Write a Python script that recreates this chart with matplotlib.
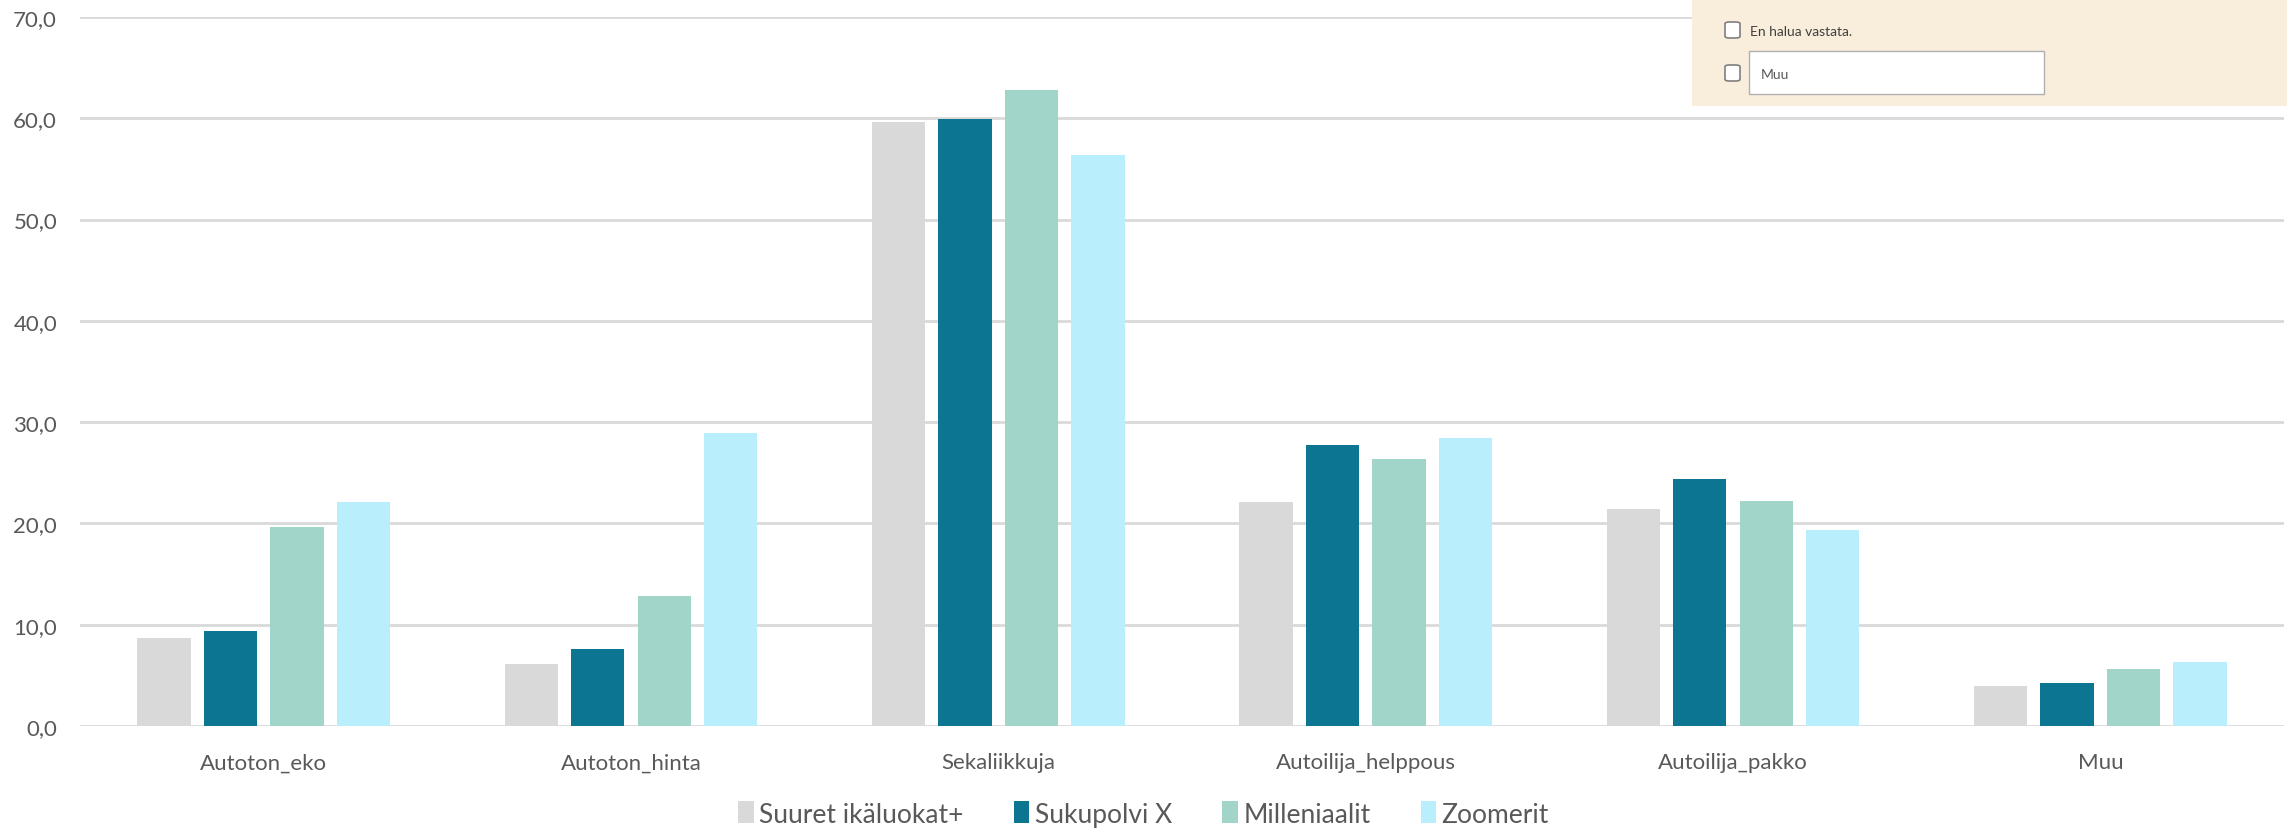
import numpy as np
import matplotlib
matplotlib.use("Agg")
import matplotlib.pyplot as plt
from matplotlib.patches import Rectangle, FancyBboxPatch
from matplotlib.ticker import FuncFormatter

# data
categories = ["Autoton_eko", "Autoton_hinta", "Sekaliikkuja",
              "Autoilija_helppous", "Autoilija_pakko", "Muu"]
series_names = ["Suuret ikäluokat+", "Sukupolvi X", "Milleniaalit", "Zoomerit"]
suuret = [8.7, 6.1, 59.6, 22.1, 21.4, 3.9]
sukupolvi_x = [9.4, 7.6, 59.9, 27.7, 24.4, 4.2]
milleniaalit = [19.6, 12.8, 62.8, 26.4, 22.2, 5.6]
zoomerit = [22.1, 28.9, 56.4, 28.4, 19.4, 6.3]
colors = ["#D9D9D9", "#0B7592", "#A2D5C9", "#B9EFFD"]

W, H = 2287, 829
plt.rcParams['font.family'] = ['Lato', 'DejaVu Sans']
fig = plt.figure(figsize=(W / 100, H / 100), dpi=100)
ax = fig.add_axes([80 / W, 1 - 727 / H, (2284 - 80) / W, (727 - 18) / H])

x = np.arange(len(categories))
bw = 0.145
pitch = 0.181
for j, vals in enumerate([suuret, sukupolvi_x, milleniaalit, zoomerit]):
    ax.bar(x + (j - 1.5) * pitch, vals, width=bw, color=colors[j],
           label=series_names[j], zorder=3)

ax.set_xlim(-0.5, len(categories) - 0.5)
ax.set_ylim(0, 70)
ax.set_yticks(np.arange(0, 71, 10))
ax.yaxis.set_major_formatter(FuncFormatter(lambda v, p: f"{v:.1f}".replace(".", ",")))
ax.set_xticks(x)
ax.set_xticklabels(categories)
ax.grid(axis="y", color="#D9D9D9", linewidth=2, zorder=0)
for s in ax.spines.values():
    s.set_visible(False)
ax.tick_params(axis="both", length=0, labelsize=16, labelcolor="#595959")
ax.tick_params(axis="x", pad=19)
ax.tick_params(axis="y", pad=16.5)

leg = fig.legend(loc="center", bbox_to_anchor=(0.5, 1 - 815 / H), ncol=4,
                 frameon=False, fontsize=19, handlelength=0.6, handleheight=0.9,
                 handletextpad=0.2, columnspacing=1.9)
for t in leg.get_texts():
    t.set_color("#595959")

# overlay from the screenshot (survey form fragment)
def px(x0, y0):
    return x0 / W, 1 - y0 / H

fig.patches.append(Rectangle(px(1692, 107), (W - 1692) / W, 107 / H,
                             transform=fig.transFigure, facecolor="#F9EDDC",
                             edgecolor="none", zorder=10))
for cy in (31, 74):
    fig.patches.append(FancyBboxPatch(px(1725, cy + 8), 15 / W, 16 / H,
                                      boxstyle="round,pad=0,rounding_size=0.002",
                                      transform=fig.transFigure, facecolor="white",
                                      edgecolor="#7F7F7F", linewidth=1.2, zorder=11))
fig.patches.append(Rectangle(px(1749, 95), (2044 - 1749) / W, 43 / H,
                             transform=fig.transFigure, facecolor="white",
                             edgecolor="#B0B0B0", linewidth=1, zorder=11))
fig.text(*px(1750, 32), "En halua vastata.", fontsize=10, color="#404040",
         va="center", ha="left", zorder=12)
fig.text(*px(1761, 75), "Muu", fontsize=10, color="#595959",
         va="center", ha="left", zorder=12)

fig.savefig("out.png", dpi=100)
